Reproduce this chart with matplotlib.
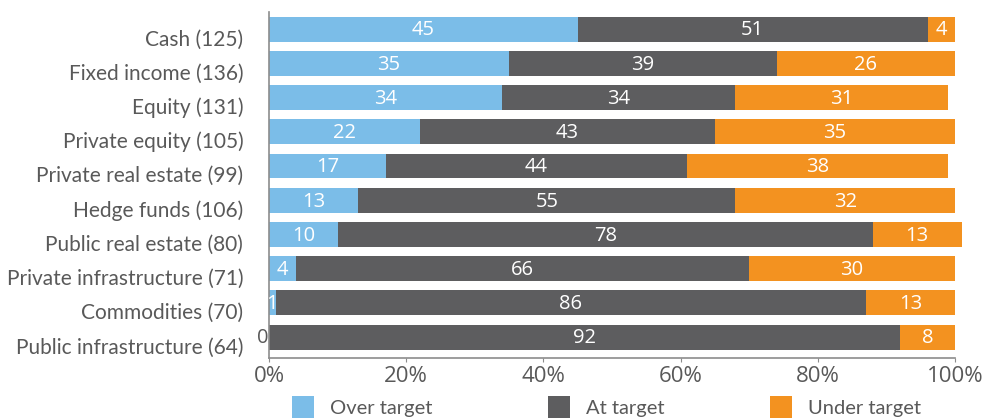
import matplotlib
matplotlib.use("Agg")
import matplotlib.pyplot as plt
import matplotlib.transforms as mtransforms
from matplotlib.patches import Rectangle
import numpy as np

categories = [
    "Cash (125)",
    "Fixed income (136)",
    "Equity (131)",
    "Private equity (105)",
    "Private real estate (99)",
    "Hedge funds (106)",
    "Public real estate (80)",
    "Private infrastructure (71)",
    "Commodities (70)",
    "Public infrastructure (64)",
]
over_target = [45, 35, 34, 22, 17, 13, 10, 4, 1, 0]
at_target = [51, 39, 34, 43, 44, 55, 78, 66, 86, 92]
under_target = [4, 26, 31, 35, 38, 32, 13, 30, 13, 8]
series_names = ["Over target", "At target", "Under target"]
xticks = [0, 20, 40, 60, 80, 100]

colors = ["#7bbde8", "#5d5d5f", "#f39220"]
text_gray = "#595959"
axis_gray = "#8c8c8c"

W, H = 998, 419
fig = plt.figure(figsize=(W / 100, H / 100), dpi=100)
ax = fig.add_axes([269 / W, 61 / H, 686 / W, 346 / H])

y = np.arange(len(categories))
left = np.zeros(len(categories))
bar_h = 0.73
for vals, col, name in zip([over_target, at_target, under_target], colors, series_names):
    vals = np.array(vals, dtype=float)
    bars = ax.barh(y, vals, left=left, height=bar_h, color=col, label=name, linewidth=0)
    for b in bars:
        b.set_clip_on(False)
    for yi, (l, v) in enumerate(zip(left, vals)):
        if v > 0:
            ax.text(l + v / 2, yi + 0.04, f"{int(v)}", ha="center", va="center",
                    color="white", fontsize=14.5, family="Open Sans")
        else:
            ax.text(l - 0.1, yi + 0.04, f"{int(v)}", ha="right", va="center",
                    color=text_gray, fontsize=14.5, family="Open Sans")
    left += vals

ax.set_xlim(0, 100)
ax.set_ylim(len(categories) - 1 + 0.61, -0.5)
ax.set_yticks(y)
ax.set_yticklabels(categories, family="Lato", fontsize=15, color=text_gray)
ax.tick_params(axis="y", length=0, pad=18.5)
shift = mtransforms.ScaledTranslation(0, -6 / 72, fig.dpi_scale_trans)
for lbl in ax.get_yticklabels():
    lbl.set_transform(lbl.get_transform() + shift)

ax.set_xticks(xticks)
ax.set_xticklabels([f"{t}%" for t in xticks], family="Open Sans", fontsize=16, color=text_gray)
ax.tick_params(axis="x", length=3, color=axis_gray, pad=3)

for s in ["top", "right"]:
    ax.spines[s].set_visible(False)
for s in ["left", "bottom"]:
    ax.spines[s].set_color(axis_gray)
    ax.spines[s].set_linewidth(1.2)

# legend row along the bottom edge
legend_x = [292, 548, 770]
for x0, col, name in zip(legend_x, colors, series_names):
    fig.patches.append(Rectangle((x0 / W, 1 / H), 22 / W, 22 / H, transform=fig.transFigure,
                                 facecolor=col, edgecolor="none"))
    fig.text((x0 + 38) / W, 11 / H, name, ha="left", va="center", family="Lato",
             fontsize=14.5, color=text_gray)

fig.savefig("out.png", dpi=100)
